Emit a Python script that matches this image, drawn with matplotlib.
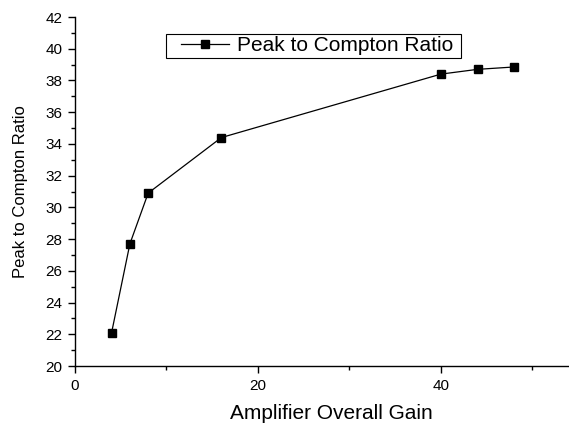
import matplotlib
matplotlib.use("Agg")
import matplotlib.pyplot as plt
from matplotlib.ticker import MultipleLocator
from matplotlib.patches import Rectangle

plt.rcParams['font.family'] = ['Liberation Sans', 'DejaVu Sans']

gain = [4, 6, 8, 16, 40, 44, 48]
ratio = [22.1, 27.7, 30.9, 34.4, 38.4, 38.7, 38.85]
series_label = "Peak to Compton Ratio"
x_label = "Amplifier Overall Gain"
y_label = "Peak to Compton Ratio"

W, H = 569, 423
fig = plt.figure(figsize=(W/100, H/100), dpi=100)
ax = fig.add_axes([75/W, (H-366)/H, (W-75)/W, (366-17)/H])
ax.plot(gain, ratio, color='black', linewidth=0.9, marker='s', markersize=6,
        markerfacecolor='black', markeredgecolor='black', label=series_label)

ax.set_xlim(0, 54)
ax.set_ylim(20, 42)
ax.xaxis.set_major_locator(MultipleLocator(20))
ax.xaxis.set_minor_locator(MultipleLocator(10))
ax.yaxis.set_major_locator(MultipleLocator(2))
ax.yaxis.set_minor_locator(MultipleLocator(1))
ax.spines['top'].set_visible(False)
ax.spines['right'].set_visible(False)
for s in ['left', 'bottom']:
    ax.spines[s].set_linewidth(1.0)
ax.tick_params(which='major', direction='out', length=5, width=1, labelsize=11, pad=4)
ax.tick_params(which='minor', direction='out', length=3, width=1)
ax.set_xlabel(x_label, fontsize=15)
ax.xaxis.set_label_coords(0.518, -0.108)
ax.set_ylabel(y_label, fontsize=12)
ax.yaxis.set_label_coords(-0.096, 0.5)

leg = ax.legend(loc='center', bbox_to_anchor=(0.49, 0.917), fontsize=15,
                frameon=False, handlelength=2.3, borderpad=0.15,
                handletextpad=0.4, borderaxespad=0)

# draw a frame around the legend with Origin-like padding
fig.canvas.draw()
bb = leg.get_window_extent()
x0, y0, x1, y1 = bb.x0 - 12, bb.y0 + 1, bb.x1 + 5, bb.y1 - 1
frame = Rectangle((x0 / W, y0 / H), (x1 - x0) / W, (y1 - y0) / H,
                  transform=fig.transFigure, fill=False, edgecolor='black',
                  linewidth=0.8, zorder=5)
fig.add_artist(frame)

fig.savefig("out.png", dpi=100)
